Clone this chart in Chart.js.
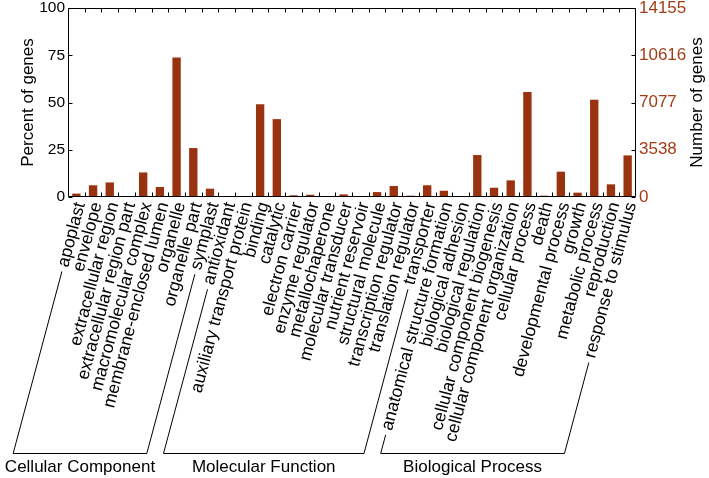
<!DOCTYPE html>
<html lang="en">
<head>
<meta charset="UTF-8">
<title>GO classification</title>
<script src="https://cdn.jsdelivr.net/npm/chart.js"></script>
<style>
  html, body { margin: 0; padding: 0; background: #fff; }
</style>
</head>
<body>
<canvas id="goChart" width="709" height="478"></canvas>
<script>
// GO terms, in plotting order
const categories = [
  'apoplast', 'envelope', 'extracellular region', 'extracellular region part',
  'macromolecular complex', 'membrane-enclosed lumen', 'organelle', 'organelle part', 'symplast',
  'antioxidant', 'auxiliary transport protein', 'binding', 'catalytic', 'electron carrier',
  'enzyme regulator', 'metallochaperone', 'molecular transducer', 'nutrient reservoir',
  'structural molecule', 'transcription regulator', 'translation regulator', 'transporter',
  'anatomical structure formation', 'biological adhesion', 'biological regulation',
  'cellular component biogenesis', 'cellular component organization', 'cellular process',
  'death', 'developmental process', 'growth', 'metabolic process', 'reproduction',
  'response to stimulus'
];
// percent of genes per term
const percentValues = [
  1.8, 6.2, 7.7, 0.2, 13.0, 5.3, 73.8, 25.9, 4.4,
  0.3, 0.05, 49.1, 41.2, 0.9, 1.2, 0.05, 1.4, 0.1, 2.6, 5.8, 0.7, 6.2,
  3.3, 0.05, 22.2, 4.9, 8.8, 55.5, 0.7, 13.4, 2.3, 51.4, 6.7, 22.0
];
const groupNames = ['Cellular Component', 'Molecular Function', 'Biological Process'];
const groupSizes = [9, 13, 12];
const leftTickValues = [0, 25, 50, 75, 100];
const rightTickLabels = ['0', '3538', '7077', '10616', '14155'];

const barColor = '#99330f';
const brown = '#a33d16';
const fontFamily = '"Liberation Sans", Arial, Helvetica, sans-serif';
const labelRot = 75;      // degrees, x label rotation
const labelSize = 17.5;
const bracketY = 453.5;

Chart.defaults.font.family = fontFamily;
Chart.defaults.color = '#000';

// box with inward tick marks, like the original figure
const framePlugin = {
  id: 'frame',
  afterDraw(chart) {
    const { ctx, chartArea: a } = chart;
    const x = chart.scales.x, y = chart.scales.y;
    ctx.save();
    ctx.strokeStyle = '#000';
    ctx.lineWidth = 1;
    ctx.beginPath();
    const L = Math.round(a.left) + 0.5, R = Math.round(a.right) - 0.5;
    const T = Math.round(a.top) + 0.5, B = Math.round(a.bottom) - 0.5;
    ctx.rect(L, T, R - L, B - T);
    // category boundaries on top and bottom
    for (let i = 1; i < categories.length; i++) {
      const px = Math.round((x.getPixelForTick(i - 1) + x.getPixelForTick(i)) / 2) + 0.5;
      ctx.moveTo(px, T); ctx.lineTo(px, T + 4);
      ctx.moveTo(px, B); ctx.lineTo(px, B - 4);
    }
    leftTickValues.forEach(v => {
      const py = Math.round(y.getPixelForValue(v)) + 0.5;
      ctx.moveTo(L, py); ctx.lineTo(L + 4, py);
      ctx.moveTo(R, py); ctx.lineTo(R - 4, py);
    });
    ctx.stroke();

    // right axis title reads bottom to top
    ctx.fillStyle = '#000';
    ctx.font = '17px ' + fontFamily;
    ctx.textAlign = 'center';
    ctx.textBaseline = 'middle';
    ctx.translate(697, (a.top + a.bottom) / 2);
    ctx.rotate(-Math.PI / 2);
    ctx.fillText('Number of genes', 0, 0);
    ctx.restore();
  }
};

// brackets that group the terms into the three GO domains
const groupPlugin = {
  id: 'groups',
  afterDraw(chart) {
    const { ctx } = chart;
    const xs = chart.scales.x;
    const items = xs.getLabelItems();
    const r = labelRot * Math.PI / 180;
    const dx = -Math.cos(r), dy = Math.sin(r);
    // perpendicular (text "down") direction in page coords
    const px = Math.sin(r), py = Math.cos(r);
    ctx.save();
    ctx.font = labelSize + 'px ' + fontFamily;
    ctx.strokeStyle = '#000';
    ctx.lineWidth = 1;

    function slant(i) {
      const it = items[i];
      const [ax, ay] = it.options.translation;
      const off = it.textOffset || 0;
      const w = ctx.measureText(categories[i]).width + 5;
      const sx = ax + px * off + dx * w;
      const sy = ay + py * off + dy * w;
      const t = (bracketY - sy) / dy;
      return { sx, sy, ex: sx + dx * t };
    }

    let start = 0;
    ctx.font = '17px ' + fontFamily;
    groupSizes.forEach((n, g) => {
      ctx.font = labelSize + 'px ' + fontFamily;
      const a = slant(start), b = slant(start + n - 1);
      ctx.beginPath();
      ctx.moveTo(a.sx, a.sy);
      ctx.lineTo(a.ex, bracketY);
      ctx.lineTo(b.ex, bracketY);
      ctx.lineTo(b.sx, b.sy);
      ctx.stroke();
      ctx.font = '17px ' + fontFamily;
      ctx.fillStyle = '#000';
      ctx.textAlign = 'center';
      ctx.textBaseline = 'alphabetic';
      ctx.fillText(groupNames[g], (a.ex + b.ex) / 2, 472);
      start += n;
    });
    ctx.restore();
  }
};

new Chart(document.getElementById('goChart'), {
  type: 'bar',
  data: {
    labels: categories,
    datasets: [{
      data: percentValues,
      backgroundColor: barColor,
      barPercentage: 0.5,
      categoryPercentage: 1.0,
      yAxisID: 'y'
    }]
  },
  options: {
    responsive: false,
    animation: false,
    layout: { padding: { top: 0, right: 0, bottom: 0, left: 0 } },
    plugins: { legend: { display: false }, tooltip: { enabled: false } },
    scales: {
      x: {
        grid: { display: false, drawTicks: false },
        border: { display: false },
        ticks: {
          autoSkip: false,
          minRotation: labelRot,
          maxRotation: labelRot,
          padding: 3,
          labelOffset: 4,
          color: '#000',
          font: { size: labelSize }
        },
        afterFit: s => { s.height = 281; }
      },
      y: {
        position: 'left',
        min: 0,
        max: 100,
        grid: { display: false, drawTicks: false },
        border: { display: false },
        afterBuildTicks: s => { s.ticks = leftTickValues.map(v => ({ value: v })); },
        ticks: { padding: 3, color: '#000', font: { size: 15.5 } },
        title: {
          display: true,
          text: 'Percent of genes',
          font: { size: 17 },
          padding: { top: 18, bottom: 0 }
        },
        afterFit: s => { s.width = 68; s.paddingTop = 8; }
      },
      y2: {
        position: 'right',
        min: 0,
        max: 100,
        grid: { display: false, drawTicks: false },
        border: { display: false },
        afterBuildTicks: s => { s.ticks = leftTickValues.map(v => ({ value: v })); },
        ticks: {
          padding: 3,
          color: brown,
          font: { size: 17 },
          callback: (v, i) => rightTickLabels[i]
        },
        afterFit: s => { s.width = 73; s.paddingTop = 8; }
      }
    }
  },
  plugins: [framePlugin, groupPlugin]
});
</script>
</body>
</html>
